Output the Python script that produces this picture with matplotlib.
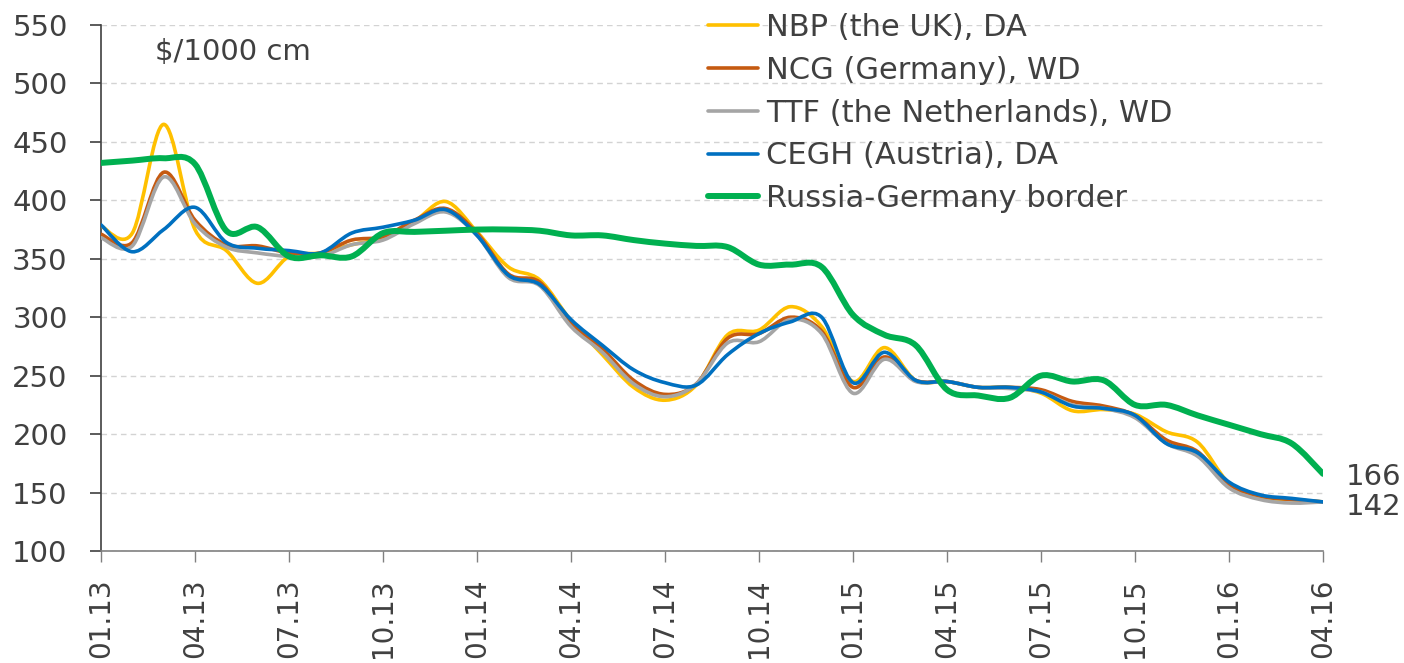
import matplotlib
matplotlib.use("Agg")
import matplotlib.pyplot as plt
import numpy as np
from matplotlib.path import Path
from matplotlib.patches import PathPatch
from matplotlib.lines import Line2D

# monthly points, 01.13 .. 04.16
months = [f"{m:02d}.{y}" for y in (13, 14, 15, 16) for m in range(1, 13)][:40]
tick_labels = months[::3]

nbp = [378, 372, 465, 375, 357, 329, 352, 355, 362, 368, 382, 399, 373, 343, 332, 297, 268, 240, 229, 242,
       285, 289, 309, 292, 245, 274, 246, 245, 240, 240, 235, 220, 221, 217, 202, 193, 158, 146, 144, 142]
ncg = [371, 364, 424, 383, 362, 361, 355, 355, 366, 369, 383, 393, 372, 337, 330, 295, 273, 246, 234, 243,
       282, 286, 300, 288, 240, 266, 246, 245, 240, 240, 238, 228, 224, 216, 195, 185, 157, 147, 144, 142]
ttf = [368, 361, 420, 380, 360, 355, 352, 352, 362, 366, 380, 390, 370, 334, 327, 292, 270, 243, 232, 243,
       278, 279, 298, 286, 235, 264, 245, 245, 240, 239, 236, 225, 222, 214, 192, 181, 154, 144, 141, 142]
cegh = [379, 356, 375, 394, 364, 359, 357, 355, 372, 377, 383, 392, 370, 336, 328, 298, 276, 255, 244, 242,
        268, 286, 296, 300, 244, 270, 246, 245, 240, 240, 236, 224, 222, 216, 192, 184, 159, 148, 145, 142]
border = [432, 434, 436, 431, 374, 377, 352, 353, 352, 372, 373, 374, 375, 375, 374, 370, 370, 366, 363, 361,
          360, 345, 345, 343, 302, 285, 276, 238, 233, 231, 250, 245, 246, 225, 225, 216, 208, 200, 192, 166]

series = [
    ("NBP (the UK), DA", nbp, "#FFC000", 2.6),
    ("NCG (Germany), WD", ncg, "#C55A11", 2.6),
    ("TTF (the Netherlands), WD", ttf, "#A5A5A5", 2.6),
    ("CEGH (Austria), DA", cegh, "#0070C0", 2.6),
    ("Russia-Germany border", border, "#00B050", 4.3),
]

TEXT = "#404040"


def smooth_path(x, y):
    # bezier segments like a spreadsheet "smoothed line"
    pts = np.column_stack([x, y]).astype(float)
    n = len(pts)
    verts = [pts[0]]
    codes = [Path.MOVETO]
    for i in range(n - 1):
        p0 = pts[max(i - 1, 0)]
        p1 = pts[i]
        p2 = pts[i + 1]
        p3 = pts[min(i + 2, n - 1)]
        verts += [p1 + (p2 - p0) / 6, p2 - (p3 - p1) / 6, p2]
        codes += [Path.CURVE4] * 3
    return Path(verts, codes)


fig = plt.figure(figsize=(14.04, 6.63), dpi=100)
ax = fig.add_axes([101 / 1404, 1 - 551 / 663, (1323 - 101) / 1404, (551 - 25) / 663])

x = np.arange(len(months))
handles = []
for label, vals, color, lw in series:
    patch = PathPatch(smooth_path(x, vals), fill=False, edgecolor=color, linewidth=lw,
                      capstyle="round", joinstyle="round", zorder=3)
    ax.add_patch(patch)
    handles.append(Line2D([], [], color=color, linewidth=lw, solid_capstyle="round"))

ax.set_xlim(0, len(months) - 1)
ax.set_ylim(100, 550)
ax.set_yticks(range(100, 551, 50))
ax.set_xticks(x[::3])
ax.set_xticklabels(tick_labels, rotation=90)
ax.grid(axis="y", color="#D3D3D3", linestyle=(0, (4, 3)), linewidth=1.0, zorder=0)

for side in ("top", "right"):
    ax.spines[side].set_visible(False)
ax.spines["left"].set_color("#404040")
ax.spines["left"].set_linewidth(1.2)
ax.spines["bottom"].set_color("#808080")
ax.spines["bottom"].set_linewidth(1.2)
ax.tick_params(axis="y", length=8, width=1.2, color="#404040", pad=16, labelsize=21, labelcolor=TEXT)
ax.tick_params(axis="x", length=8, width=1.0, color="#808080", pad=12, labelsize=20, labelcolor=TEXT)

ax.text(155 / 1404, 1 - 52 / 663, "$/1000 cm", transform=fig.transFigure, fontsize=21,
        color=TEXT, va="center", ha="left")
ax.text(1346 / 1404, 1 - 477 / 663, "166", transform=fig.transFigure, fontsize=21,
        color=TEXT, va="center", ha="left")
ax.text(1346 / 1404, 1 - 507 / 663, "142", transform=fig.transFigure, fontsize=21,
        color=TEXT, va="center", ha="left")

leg = ax.legend(handles, [s[0] for s in series], loc="upper left",
                bbox_to_anchor=(708 / 1404, 1 - 13 / 663), bbox_transform=fig.transFigure,
                frameon=False, fontsize=22, handlelength=1.65, handletextpad=0.25,
                labelspacing=0.45, borderaxespad=0, borderpad=0)
for t in leg.get_texts():
    t.set_color(TEXT)

fig.savefig("out.png", dpi=100)
